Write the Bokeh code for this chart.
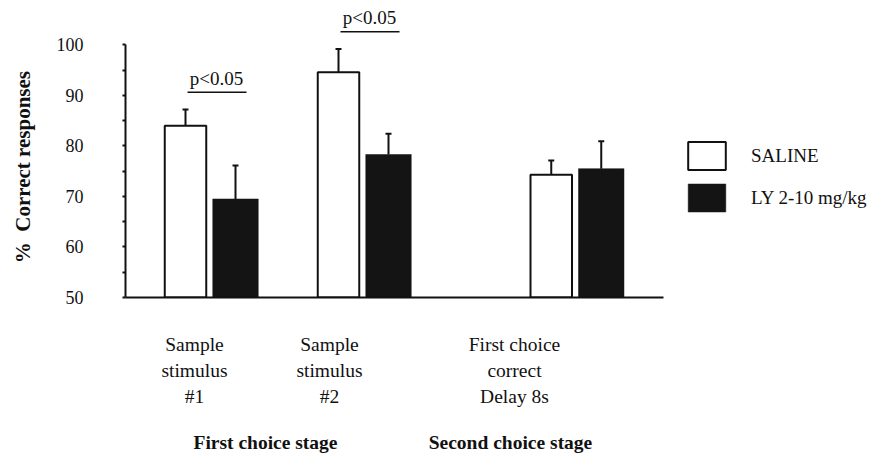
from bokeh.plotting import figure
from bokeh.models import (Range1d, LinearAxis, FixedTicker, ColumnDataSource,
                          Whisker, TeeHead, Legend, LegendItem)
from bokeh.core.properties import value
from bokeh.embed import file_html
from bokeh.resources import INLINE

# ---------------- data ----------------
conditions = ["Sample\nstimulus\n#1", "Sample\nstimulus\n#2", "First choice\ncorrect\nDelay 8s"]
stages = ["First choice stage", "Second choice stage"]
series = ["SALINE", "LY 2-10 mg/kg"]
saline = [84.0, 94.6, 74.3]
saline_err = [3.2, 4.6, 2.8]
ly = [69.5, 78.3, 75.5]
ly_err = [6.6, 4.1, 5.4]
y_ticks = [50, 60, 70, 80, 90, 100]
y_minor = [55, 65, 75, 85, 95]
sig_label = "p<0.05"
sig_groups = [0, 1]
y_title = "%\u00a0 Correct responses" + "\u00a0" * 5

# ---------------- layout (frame pixel units on x) ----------------
FONT = "Liberation Serif"
group_x = [85, 238, 450.75]
bar_off = 25
cond_tick_x = [69, 204, 389]
stage_tick_x = [140, 385]
x_axis_end = 538

sal_x = [g - bar_off for g in group_x]
ly_x = [g + bar_off for g in group_x]

p = figure(width=883, height=456, x_range=Range1d(0, 758), y_range=Range1d(50, 106.8),
           output_backend="svg", toolbar_location=None,
           x_axis_location=None, y_axis_location=None,
           min_border_left=125, min_border_right=0, min_border_top=10, min_border_bottom=159)
p.outline_line_color = None
p.grid.grid_line_color = None
p.background_fill_color = "white"
p.border_fill_color = "white"

# bars
src_sal = ColumnDataSource(dict(x=sal_x, top=saline, upper=[v + e for v, e in zip(saline, saline_err)]))
src_ly = ColumnDataSource(dict(x=ly_x, top=ly, upper=[v + e for v, e in zip(ly, ly_err)]))

r_sal = p.vbar(x="x", top="top", bottom=50, width=41.5, source=src_sal,
               fill_color="white", line_color="#111111", line_width=2)
r_ly = p.vbar(x="x", top="top", bottom=50, width=45.5, source=src_ly,
              fill_color="#141414", line_color="#141414", line_width=0.5)

for src in (src_sal, src_ly):
    w = Whisker(source=src, base="x", lower="top", upper="upper", dimension="height",
                line_color="#111111", line_width=2,
                upper_head=TeeHead(size=6, line_width=2, line_color="#111111"),
                lower_head=None, level="underlay")
    p.add_layout(w)

# significance markers
sig_x0, sig_x1, sig_y, sig_tx = [], [], [], []
for g in sig_groups:
    top = max(saline[g] + saline_err[g], ly[g] + ly_err[g])
    sig_y.append(top + 3.4)
    sig_x0.append(group_x[g] - 23)
    sig_x1.append(group_x[g] + 36)
    sig_tx.append(group_x[g] + 6)
p.segment(x0=sig_x0, x1=sig_x1, y0=sig_y, y1=sig_y, line_color="#111111", line_width=1.5)
p.text(x=sig_tx, y=sig_y, text=[sig_label] * len(sig_groups), y_offset=-14,
       text_align="center", text_baseline="middle", text_font=value(FONT),
       text_font_size="19px", text_color="#111111")

# y axis
yaxis = LinearAxis(ticker=FixedTicker(ticks=y_ticks, minor_ticks=y_minor), bounds=(50, 100),
                   axis_line_width=2, axis_line_color="#111111",
                   major_tick_out=3, major_tick_in=0, minor_tick_out=3, minor_tick_in=0,
                   major_tick_line_width=2, minor_tick_line_width=2,
                   major_tick_line_color="#111111", minor_tick_line_color="#111111",
                   major_label_standoff=39, major_label_text_font=FONT,
                   major_label_text_font_size="18px", major_label_text_color="#111111",
                   axis_label=y_title, axis_label_text_font=FONT,
                   axis_label_text_font_style="bold", axis_label_text_font_size="21px",
                   axis_label_text_color="#111111", axis_label_standoff=19)
p.add_layout(yaxis, "left")

# x axis with condition labels
xaxis = LinearAxis(ticker=FixedTicker(ticks=cond_tick_x), bounds=(0, x_axis_end),
                   major_label_overrides={t: c for t, c in zip(cond_tick_x, conditions)},
                   axis_line_width=2, axis_line_color="#111111",
                   major_tick_line_color=None, minor_tick_line_color=None,
                   major_label_standoff=30, major_label_text_font=FONT,
                   major_label_text_font_size="19.5px", major_label_text_color="#111111",
                   major_label_text_line_height=1.25)
p.add_layout(xaxis, "below")

# x axis with stage labels
saxis = LinearAxis(ticker=FixedTicker(ticks=stage_tick_x),
                   major_label_overrides={t: s for t, s in zip(stage_tick_x, stages)},
                   axis_line_color=None, major_tick_line_color=None, minor_tick_line_color=None,
                   major_label_standoff=15, major_label_text_font=FONT,
                   major_label_text_font_style="bold",
                   major_label_text_font_size="19.5px", major_label_text_color="#111111")
p.add_layout(saxis, "below")

legend = Legend(items=[LegendItem(label=series[0], renderers=[r_sal]),
                       LegendItem(label=series[1], renderers=[r_ly])],
                location=(558, 82), glyph_width=47, glyph_height=35, label_standoff=21,
                spacing=7, padding=0, margin=0, border_line_color=None,
                background_fill_alpha=0, label_text_font=FONT, label_text_font_size="19px",
                label_text_color="#111111")
p.add_layout(legend)

open("out.html", "w").write(file_html(p, INLINE))
